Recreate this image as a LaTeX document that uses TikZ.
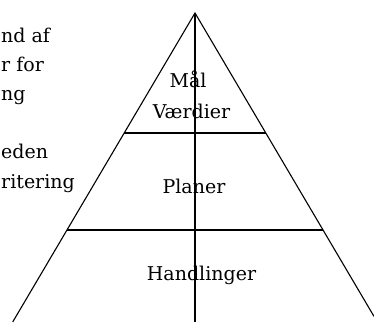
\documentclass[tikz,border=0pt]{standalone}
\usepackage{fontspec}
\setmainfont{DejaVu Serif}
\begin{document}
\begin{tikzpicture}[x=1pt,y=1pt,
  ln/.style={line width=1.1pt,black},
  lbl/.style={inner sep=0pt,font=\fontsize{19}{23}\selectfont},
  lefttxt/.style={lbl,anchor=base west}]
\useasboundingbox (0,0) rectangle (374,-322);
% geometry
\coordinate (apex) at (195,-13);
\coordinate (bl) at (12.7,-322);
\coordinate (br) at (374,-316.4);
\coordinate (bc) at (195,-322);
\coordinate (h1l) at (124,-133);
\coordinate (h1r) at (266,-133);
\coordinate (h2l) at (67,-230);
\coordinate (h2r) at (323,-230);
\draw[ln,line join=miter] (bl) -- (apex) -- (br);
\draw[ln] (apex) -- (bc);
\draw[ln] (h1l) -- (h1r);
\draw[ln] (h2l) -- (h2r);
% labels in pyramid
\node[lbl,anchor=base] (maal) at (188,-87) {Mål};
\node[lbl,anchor=base] (vaerdier) at (191.5,-118) {Værdier};
\node[lbl,anchor=base] (planer) at (194,-193) {Planer};
\node[lbl,anchor=base] (handl) at (201.5,-280) {Handlinger};
% clipped text on the left
\node[lefttxt] (t1) at (1,-42) {nd af};
\node[lefttxt] (t2) at (1,-71.5) {r for};
\node[lefttxt] (t3) at (1,-100.5) {ng};
\node[lefttxt] (t4) at (1,-158.5) {eden};
\node[lefttxt] (t5) at (1,-188) {ritering};
\end{tikzpicture}
\end{document}
